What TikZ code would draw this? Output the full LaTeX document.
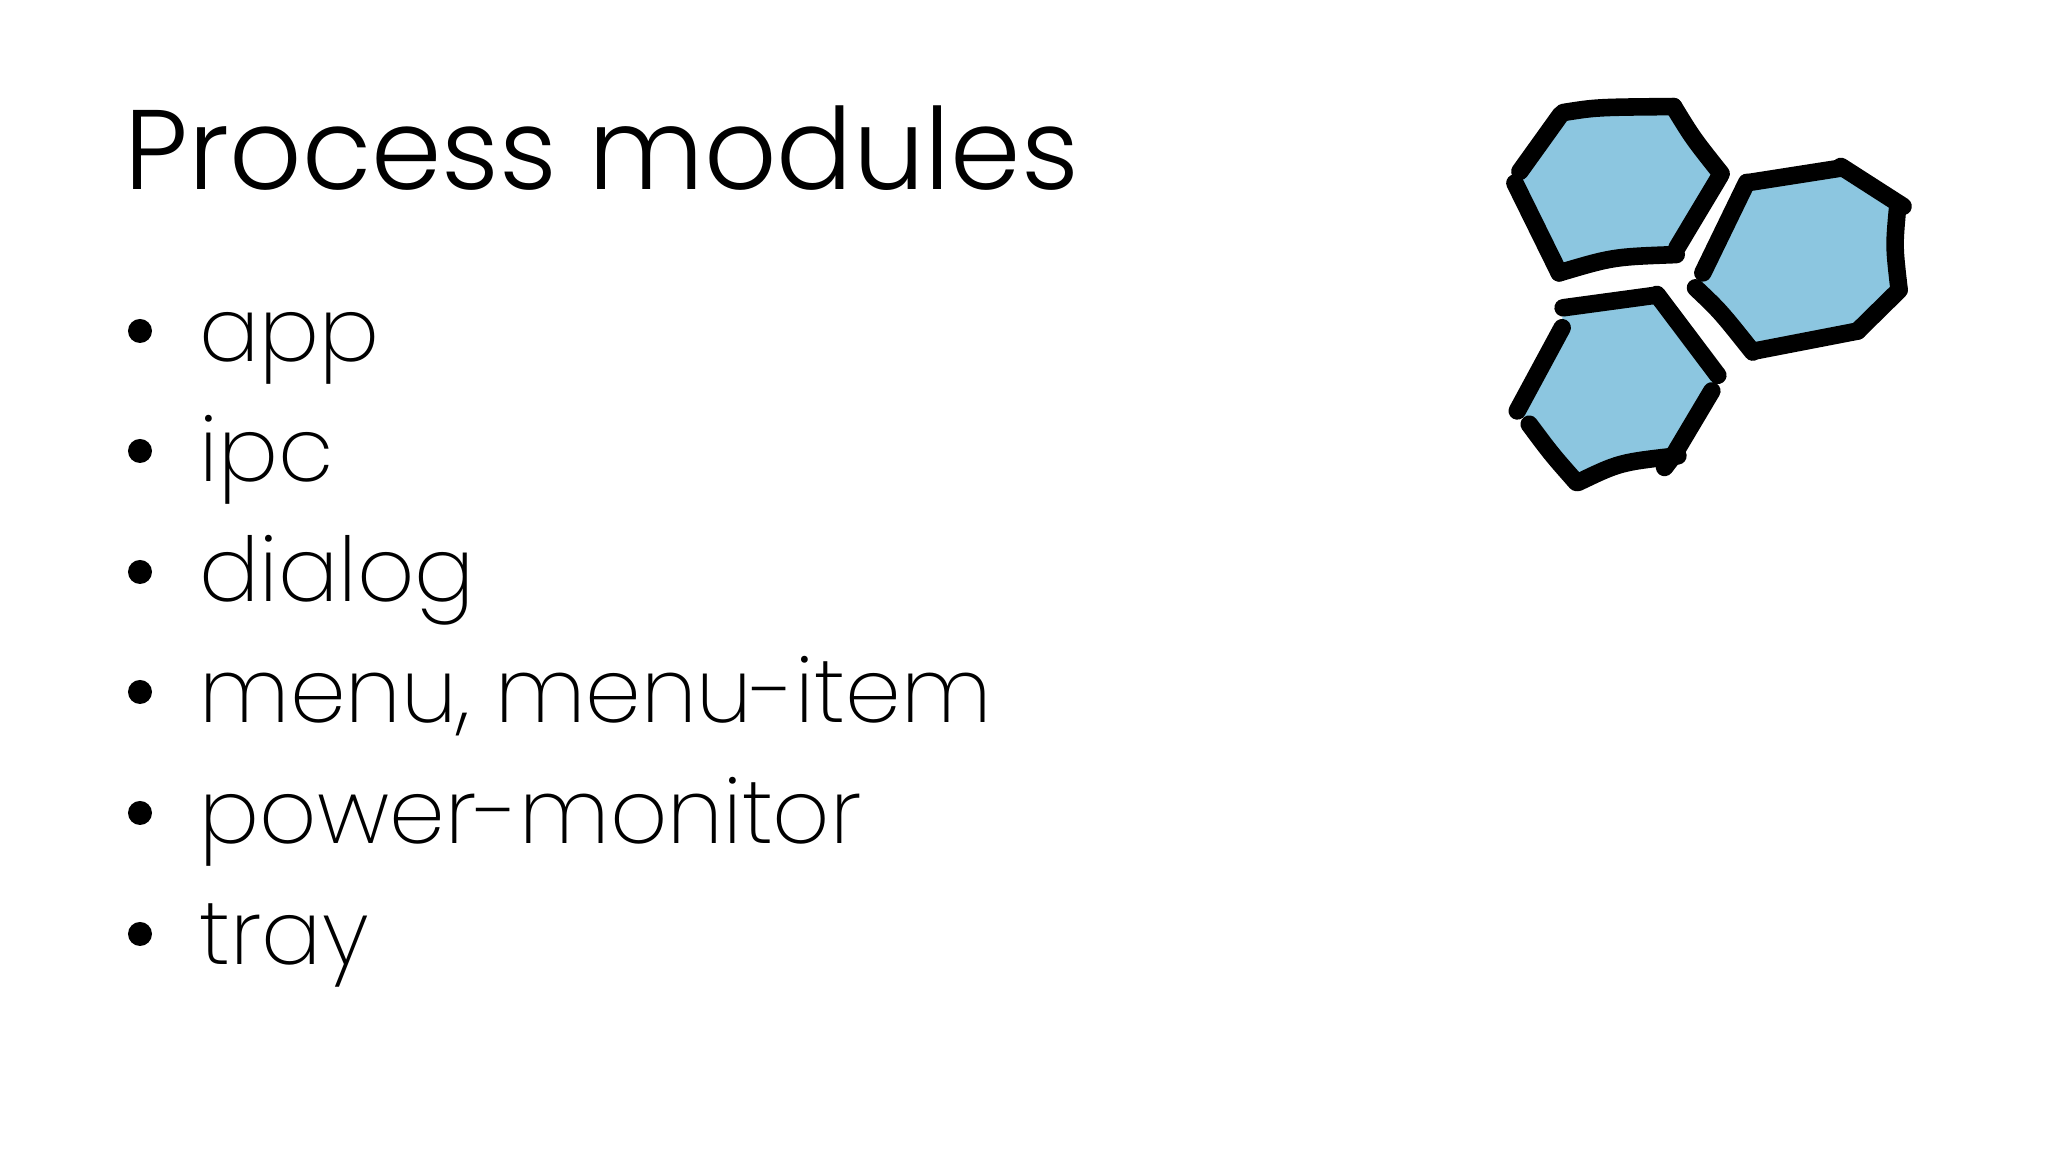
\documentclass[tikz,border=0pt]{standalone}
\usepackage{fontspec}
\setmainfont{Poppins Light}
\newfontfamily\thinfont{Poppins ExtraLight}
\definecolor{hexblue}{HTML}{8CC6E0}
\tikzset{
  titletext/.style={anchor=base west, inner sep=0pt, font=\fontsize{32.2}{40}\selectfont, text=black},
  itemtext/.style={anchor=base west, inner sep=0pt, font=\thinfont\fontsize{25.4}{32}\selectfont, text=black},
  itemdot/.style={circle, fill=black, inner sep=0pt, minimum size=0.24cm},
  hexfill/.style={fill=hexblue, draw=none},
  hexline/.style={draw=black, line width=5pt, line cap=round, line join=round}
}
\begin{document}
\begin{tikzpicture}
\useasboundingbox (0,0) rectangle (20.48,11.52);
\fill[white] (0,0) rectangle (20.48,11.52);

\node[titletext] (title) at (1.24,9.62) {Process modules};

\node[itemdot] (dot1) at (1.40,8.21) {};
\node[itemdot] (dot2) at (1.40,7.01) {};
\node[itemdot] (dot3) at (1.40,5.80) {};
\node[itemdot] (dot4) at (1.40,4.60) {};
\node[itemdot] (dot5) at (1.40,3.39) {};
\node[itemdot] (dot6) at (1.40,2.18) {};

\node[itemtext] (app) at (1.99,7.90) {app};
\node[itemtext] (ipc) at (1.99,6.70) {ipc};
\node[itemtext] (dialog) at (1.99,5.50) {dialog};
\node[itemtext] (menu) at (1.99,4.29) {menu, menu-item};
\node[itemtext] (power) at (1.99,3.08) {power-monitor};
\node[itemtext] (tray) at (1.99,1.87) {tray};

% the drawing, in crop units
\begin{scope}[shift={(14.8,10.82)}, x=0.003333cm, y=-0.003333cm]
\fill[hexfill] (245,128) -- (585,110) -- (725,315) -- (590,555) -- (240,610) -- (105,340) -- cycle;
\draw[hexline] (250,128) .. controls (350,112) .. (582,110);
\draw[hexline] (582,110) .. controls (640,205) .. (725,312);
\draw[hexline] (722,318) -- (592,535);
\draw[hexline] (590,555) .. controls (400,562) .. (238,610);
\draw[hexline] (238,610) -- (105,340);
\draw[hexline] (120,305) -- (242,135);

\fill[hexfill] (810,340) -- (1085,295) -- (1265,410) -- (1260,660) -- (1135,785) -- (820,845) -- (650,655) -- cycle;
\draw[hexline] (810,338) -- (1085,295);
\draw[hexline] (1085,290) -- (1272,410);
\draw[hexline] (1255,420) .. controls (1245,530) .. (1260,660);
\draw[hexline] (1260,662) -- (1135,785);
\draw[hexline] (1135,785) -- (825,845);
\draw[hexline] (820,848) .. controls (722,725) .. (648,655);
\draw[hexline] (670,610) -- (802,338);

\fill[hexfill] (250,715) -- (530,675) -- (715,915) -- (575,1170) -- (295,1240) -- (150,1065) -- (115,1025) -- (245,775) -- cycle;
\draw[hexline] (250,715) -- (530,677);
\draw[hexline] (532,675) -- (715,918);
\draw[hexline] (697,965) -- (578,1165);
\draw[hexline] (595,1160) .. controls (420,1180) .. (295,1240);
\draw[hexline] (290,1240) .. controls (215,1155) .. (148,1065);
\draw[hexline] (112,1025) -- (247,775);
\draw[hexline] (555,1195) -- (578,1165);
\end{scope}
\end{tikzpicture}
\end{document}
